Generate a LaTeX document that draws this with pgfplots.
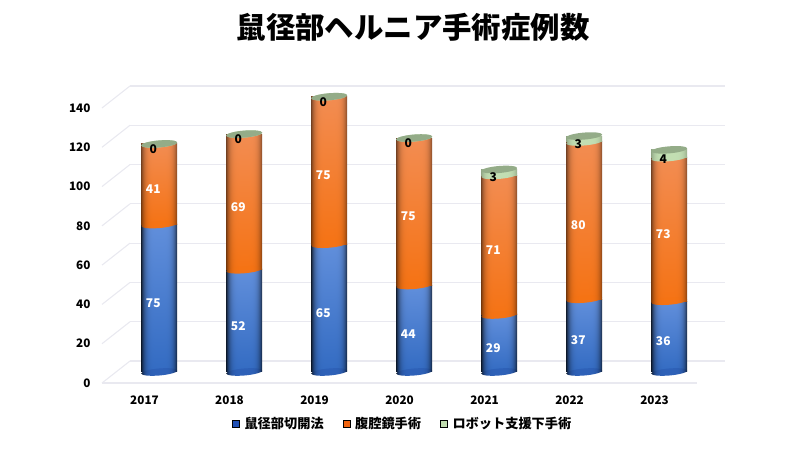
\documentclass[border=0pt]{standalone}
\usepackage{fontspec}
\setmainfont{Noto Sans CJK JP}
\usepackage{pgfplots}
\usepackage{pgfplotstable}
\pgfplotsset{compat=1.18}
% #1 name, #2 y-part, #3 edge strength, #4-6 low rgb, #7-9 delta rgb
\newcommand\defcyl[9]{%
\pgfdeclarefunctionalshading{#1}{\pgfpointorigin}{\pgfpoint{100bp}{100bp}}{}{%
#2 exch 25 sub 25 div 1 sub abs dup dup mul dup mul mul #3 mul 1 exch sub
1 index #7 mul #4 add 1 index mul
2 index #8 mul #5 add 2 index mul
3 index #9 mul #6 add 3 index mul
5 -2 roll pop pop}}
\defcyl{blueBar}{25 sub 50 div}{0.75}{0.20}{0.42}{0.76}{0.18}{0.14}{0.10}
\defcyl{orangeBar}{25 sub 50 div}{0.5}{0.96}{0.45}{0.08}{-0.01}{0.10}{0.24}
\defcyl{greenBar}{25 sub 50 div}{0.25}{0.76}{0.87}{0.70}{0}{0}{0}
\defcyl{blueEll}{pop 0}{0.75}{0.18}{0.38}{0.72}{0}{0}{0}
\defcyl{orangeEll}{pop 0}{0.5}{0.96}{0.45}{0.08}{0}{0}{0}
\defcyl{greenEll}{pop 0}{0.25}{0.76}{0.87}{0.70}{0}{0}{0}
\newcommand\cylpath{\pgfpathellipse{\pgfpointorigin}{\pgfqpoint{18pt}{1.5pt}}{\pgfqpoint{-0.25pt}{3.5pt}}}
\pgfdeclareplotmark{cylblue}{\cylpath\pgfshadepath{blueEll}{0}\pgfusepath{discard}}
\pgfdeclareplotmark{cylorange}{\cylpath\pgfshadepath{orangeEll}{0}\pgfusepath{discard}}
\pgfdeclareplotmark{cylgreen}{\cylpath\pgfshadepath{greenEll}{0}\pgfusepath{discard}}
\definecolor{capgreen}{HTML}{94AC88}
\pgfdeclareplotmark{cylcap}{\cylpath\pgfsetfillcolor{capgreen}\pgfusepathqfill}
\definecolor{gridc}{HTML}{E9E9F0}
\definecolor{legblue}{HTML}{1F4FB4}
\definecolor{legorange}{HTML}{F0640F}
\definecolor{leggreen}{HTML}{BFDBAE}
\pgfplotstableread{
x open lap robot c1 c2 c3
0 75 41 0 75 116 116
1 52 69 0 52 121 121
2 65 75 0 65 140 140
3 44 75 0 44 119 119
4 29 71 3 29 100 103
5 37 80 3 37 117 120
6 36 73 4 36 109 113
}\data
\pgfplotstableread{
x y v
-0.07 35 75
0.93 23.5 52
1.93 30 65
2.93 19.5 44
3.93 12 29
4.93 16 37
5.93 15.5 36
}\lblopen
\pgfplotstableread{
x y v
-0.07 93 41
0.93 84 69
1.93 100 75
2.93 79 75
3.93 62 71
4.93 74.5 80
5.93 70 73
}\lbllap
\pgfplotstableread{
x y v
-0.07 113.5 0
0.93 118.5 0
1.93 137.5 0
2.93 116.5 0
3.93 99 3
4.93 116 3
5.93 108.5 4
}\lblrobot
\pgfplotsset{cylaxis/.style={at={(116.7pt,67pt)},anchor=south west,scale only axis,width=595pt,height=297pt,
  xmin=-0.5,xmax=6.5,ymin=-5.6,ymax=145.47,hide axis,clip=false,bar width=36pt},
  lblstyle/.style={only marks,mark=none,draw=none,forget plot,point meta=explicit,
  nodes near coords,nodes near coords align={center},
  /pgf/number format/assume math mode=true,
  every node near coord/.style={anchor=center,text=#1,font=\bfseries\fontsize{12}{14}\selectfont}}}
\begin{document}
\begin{tikzpicture}[x=1pt,y=1pt]
\path[use as bounding box] (0,0) rectangle (800,450);
\node[font=\bfseries\fontsize{29.4}{32}\selectfont] at (413,423) {鼠径部ヘルニア手術症例数};
% back wall
\begin{axis}[at={(130pt,89pt)},anchor=south west,scale only axis,width=595pt,height=275pt,
  xmin=0,xmax=1,ymin=0,ymax=140,ytick={0,20,...,140},xtick=\empty,
  yticklabels={},axis line style={draw=none},major tick length=0pt,
  ymajorgrids,grid style={gridc,line width=1.1pt}]
\end{axis}
% slanted wall lines
\foreach \i in {0,...,7}{
  \draw[gridc,line width=1.1pt] (102,{67+\i*39.29}) -- (130,{89+\i*39.29});
}
% front plane: tick labels and floor line
\begin{axis}[at={(102pt,67pt)},anchor=south west,scale only axis,width=595pt,height=275pt,
  xmin=-0.5,xmax=6.5,ymin=0,ymax=140,ytick={0,20,...,140},xtick={0,...,6},
  xticklabels={2017,2018,2019,2020,2021,2022,2023},
  /pgf/number format/assume math mode=true,
  tick label style={font=\bfseries\fontsize{11.7}{13}\selectfont},
  yticklabel style={xshift=-8pt},xticklabel style={yshift=-9pt},
  major tick length=0pt,axis x line*=bottom,axis y line=left,
  y axis line style={draw=none},
  x axis line style={gridc,line width=1.1pt,-}]
\end{axis}
% bars: one axis per year, so that each cylinder has its own shading
\pgfplotsinvokeforeach{0,...,6}{
\begin{axis}[cylaxis,restrict x to domain=#1:#1]
\addplot[only marks,mark=cylblue,forget plot] table[x=x,y expr=0] {\data};
\addplot[ybar stacked,shade,shading=blueBar,draw=none,forget plot] table[x=x,y=open] {\data};
\addplot[only marks,mark=cylorange,forget plot,stack plots=false] table[x=x,y=c1] {\data};
\addplot[ybar stacked,shade,shading=orangeBar,draw=none,forget plot] table[x=x,y=lap] {\data};
\addplot[only marks,mark=cylgreen,forget plot,stack plots=false] table[x=x,y=c2] {\data};
\addplot[ybar stacked,shade,shading=greenBar,draw=none,forget plot] table[x=x,y=robot] {\data};
\addplot[only marks,mark=cylcap,forget plot,stack plots=false] table[x=x,y=c3] {\data};
\end{axis}
}
% value labels and legend
\begin{axis}[cylaxis,
  legend style={at={(0.4807,-0.138)},anchor=center,draw=none,fill=none,
    font=\bfseries\fontsize{13.2}{15}\selectfont,legend columns=3,
    /tikz/every odd column/.append style={column sep=3pt},
    /tikz/every even column/.append style={column sep=17pt}},
  legend image code/.code={\fill[#1] (0pt,-3.5pt) rectangle (7pt,3.5pt);}]
\addplot[lblstyle=white] table[x=x,y=y,meta=v] {\lblopen};
\addplot[lblstyle=white] table[x=x,y=y,meta=v] {\lbllap};
\addplot[lblstyle=black] table[x=x,y=y,meta=v] {\lblrobot};
\addlegendimage{fill=legblue}
\addlegendentry{鼠径部切開法}
\addlegendimage{fill=legorange}
\addlegendentry{腹腔鏡手術}
\addlegendimage{fill=leggreen}
\addlegendentry{ロボット支援下手術}
\end{axis}
\end{tikzpicture}
\end{document}
